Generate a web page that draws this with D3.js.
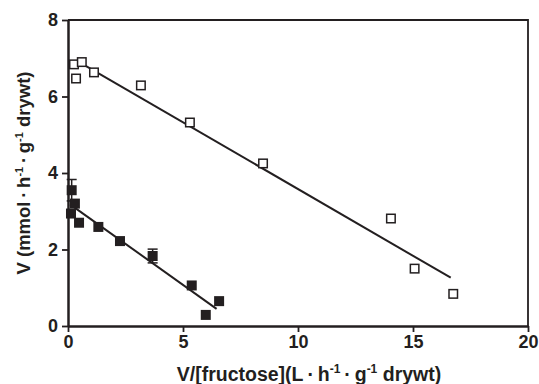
<!DOCTYPE html>
<html>
<head>
<meta charset="utf-8">
<script src="https://cdn.jsdelivr.net/npm/d3@7"></script>
<style>
  body { margin: 0; background: #fff; }
  svg text { font-family: "Liberation Sans", Arial, sans-serif; font-weight: bold; fill: #231f20; }
</style>
</head>
<body>
<div id="chart"></div>
<script>
// open squares (upper series)
const openX = [0.26, 0.35, 0.6, 1.13, 3.17, 5.3, 8.48, 14.04, 15.07, 16.75];
const openY = [6.84, 6.47, 6.9, 6.63, 6.29, 5.32, 4.25, 2.81, 1.5, 0.84];
// filled squares (lower series)
const fillX = [0.16, 0.3, 0.13, 0.48, 1.32, 2.26, 3.68, 5.38, 5.99, 6.57];
const fillY = [3.55, 3.2, 2.94, 2.7, 2.59, 2.22, 1.83, 1.06, 0.29, 0.65];
const fillErr = [0.28, 0, 0, 0, 0, 0, 0.18, 0, 0, 0];
// regression lines: [x start, x end], slope, intercept
const openFit = { x: [0.43, 16.64], slope: -0.349, icept: 7.07 };
const fillFit = { x: [0.09, 6.46], slope: -0.429, icept: 3.22 };
const xTicks = [0, 5, 10, 15, 20];
const yTicks = [0, 2, 4, 6, 8];

const width = 539, height = 384;
const m = { left: 68, right: 11, top: 20, bottom: 58 };

const svg = d3.select('#chart').append('svg')
  .attr('width', width)
  .attr('height', height);

const x = d3.scaleLinear().domain([0, 20]).range([m.left, width - m.right]);
const y = d3.scaleLinear().domain([0, 8]).range([height - m.bottom, m.top]);

const ink = '#231f20';

// frame (top and right)
svg.append('path')
  .attr('d', `M${x(0)},${y(8)}H${x(20)}V${y(0)}`)
  .attr('fill', 'none').attr('stroke', ink).attr('stroke-width', 1.8);

// axes
const xAxis = svg.append('g')
  .attr('transform', `translate(0,${y(0)})`)
  .call(d3.axisBottom(x).tickValues(xTicks).tickSize(6).tickSizeOuter(0).tickPadding(3));
const yAxis = svg.append('g')
  .attr('transform', `translate(${x(0)},0)`)
  .call(d3.axisLeft(y).tickValues(yTicks).tickSize(6).tickSizeOuter(0).tickPadding(4));

[xAxis, yAxis].forEach(g => {
  g.select('.domain').attr('stroke', ink).attr('stroke-width', 2.5);
  g.selectAll('.tick line').attr('stroke', ink).attr('stroke-width', 1.8);
  g.selectAll('.tick text').attr('font-size', 18).attr('fill', ink);
});

// fit lines
const line = d3.line().x(d => x(d[0])).y(d => y(d[1]));
[openFit, fillFit].forEach(f => {
  svg.append('path')
    .attr('d', line(f.x.map(v => [v, f.icept + f.slope * v])))
    .attr('fill', 'none').attr('stroke', ink).attr('stroke-width', 2);
});

// error bars
const errs = fillX.map((v, i) => ({ x: v, y: fillY[i], e: fillErr[i] })).filter(d => d.e > 0);
const eg = svg.append('g').attr('stroke', ink).attr('stroke-width', 1.5);
errs.forEach(d => {
  eg.append('line').attr('x1', x(d.x)).attr('x2', x(d.x)).attr('y1', y(d.y - d.e)).attr('y2', y(d.y + d.e));
  [d.y - d.e, d.y + d.e].forEach(v => {
    eg.append('line').attr('x1', x(d.x) - 5).attr('x2', x(d.x) + 5).attr('y1', y(v)).attr('y2', y(v));
  });
});

// markers
const s = 10;
svg.append('g').selectAll('rect')
  .data(fillX.map((v, i) => [v, fillY[i]]))
  .join('rect')
  .attr('x', d => x(d[0]) - s / 2).attr('y', d => y(d[1]) - s / 2)
  .attr('width', s).attr('height', s)
  .attr('fill', ink);

svg.append('g').selectAll('rect')
  .data(openX.map((v, i) => [v, openY[i]]))
  .join('rect')
  .attr('x', d => x(d[0]) - (s - 1.5) / 2).attr('y', d => y(d[1]) - (s - 1.5) / 2)
  .attr('width', s - 1.5).attr('height', s - 1.5)
  .attr('fill', '#fff').attr('stroke', ink).attr('stroke-width', 1.5);

// axis titles
function unitTitle(t, head, fs) {
  const sup = Math.round(fs * 0.62);
  t.append('tspan').text(head + '\u2009\u00b7\u2009h');
  t.append('tspan').attr('dy', -fs * 0.4).attr('font-size', sup).text('-1');
  t.append('tspan').attr('dy', fs * 0.4).text('\u2009\u00b7\u2009g');
  t.append('tspan').attr('dy', -fs * 0.4).attr('font-size', sup).text('-1');
  t.append('tspan').attr('dy', fs * 0.4).text(' drywt)');
}

const xt = svg.append('text')
  .attr('x', 309).attr('y', 381)
  .attr('text-anchor', 'middle').attr('font-size', 19.5);
unitTitle(xt, 'V/[fructose](L', 19.5);

const yt = svg.append('text')
  .attr('transform', `translate(30,${(y(0) + y(8)) / 2}) rotate(-90)`)
  .attr('text-anchor', 'middle').attr('font-size', 18.5);
unitTitle(yt, 'V (mmol', 18.5);
</script>
</body>
</html>
